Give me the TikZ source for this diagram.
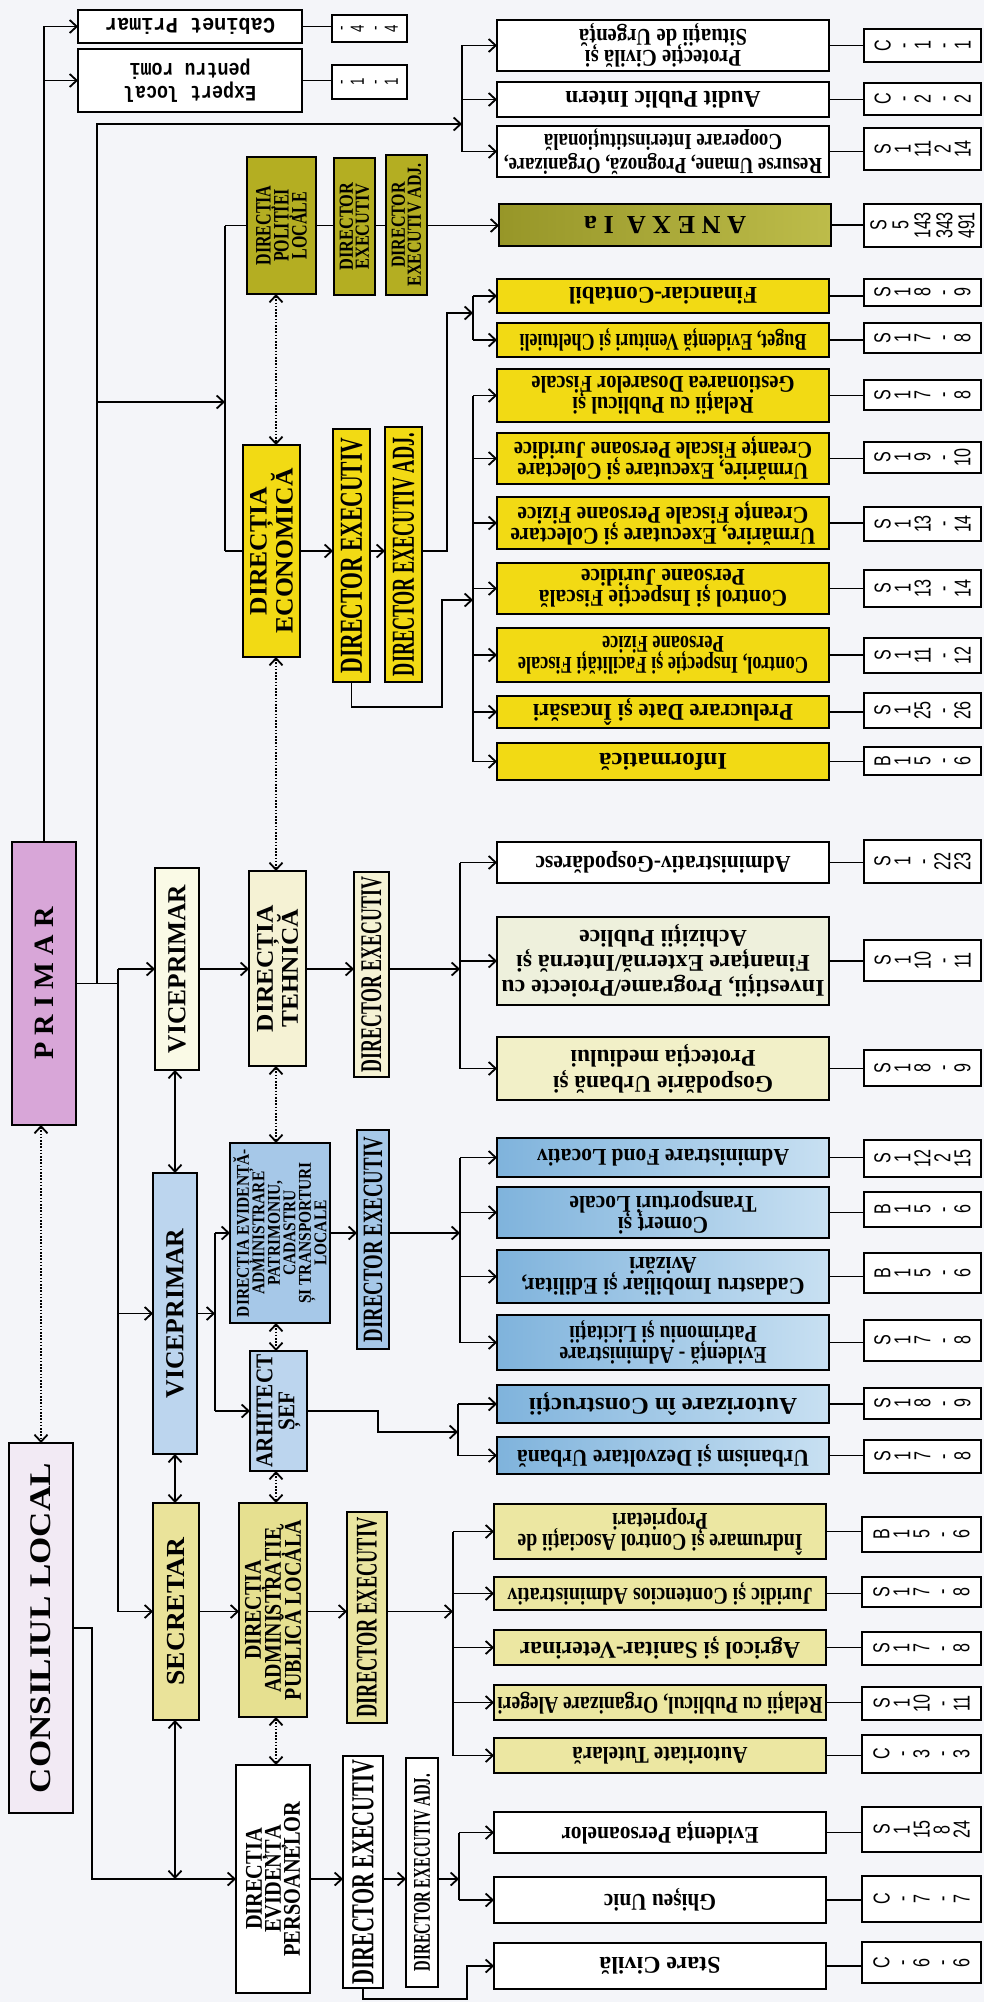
\documentclass[tikz,border=0pt]{standalone}
\usepackage{fontspec}
\setmainfont{Liberation Serif}
\setsansfont{Liberation Sans}
\setmonofont{Liberation Mono}
\usepackage{graphicx}
\usetikzlibrary{arrows.meta}

\definecolor{bgc}{HTML}{F4F5F9}
\definecolor{consc}{HTML}{F2EAF4}
\definecolor{primc}{HTML}{D8A6D8}
\definecolor{vpc}{HTML}{FAFAE6}
\definecolor{bluec}{HTML}{BCD5EE}
\definecolor{blued}{HTML}{A6C8E8}
\definecolor{secc}{HTML}{EAE39A}
\definecolor{olivec}{HTML}{B4AE22}
\definecolor{ecoc}{HTML}{F2DA14}
\definecolor{tehc}{HTML}{F5F2D4}
\definecolor{apc}{HTML}{E6E090}
\definecolor{sbl}{HTML}{7FB3DC}
\definecolor{sbr}{HTML}{C8E0F2}
\definecolor{anl}{HTML}{979628}
\definecolor{anr}{HTML}{BDBC4A}
\definecolor{invc}{HTML}{EEF0DC}
\definecolor{gosc}{HTML}{F2F0C8}
\definecolor{indc}{HTML}{ECE7A2}

\newcommand\ml[1]{\vbox{\lineskiplimit=-100pt\lineskip=0pt\halign{\hfil##\hfil\cr#1\crcr}}}
\newcommand\fw[2]{\resizebox{#1pt}{\height}{#2}}
\newcommand\up[2]{\rotatebox{90}{\fw{#1}{#2}}}
\newcommand\dn[2]{\rotatebox{180}{\fw{#1}{#2}}}
\newcommand\cnt[1]{\rotatebox{90}{\scalebox{0.7}[1]{\ml{#1}}}}

\begin{document}
\begin{tikzpicture}[x=1pt,y=-1pt,
  rect/.style args={#1,#2,#3,#4}{at={({(#1+#3)/2},{(#2+#4)/2})}, minimum width={#3pt-#1pt}, minimum height={#4pt-#2pt}},
  bx/.style={draw=black, line width=2pt, inner sep=0pt, outer sep=0pt},
  main/.style={bx, font=\fontsize{26}{26}\selectfont\bfseries},
  sb/.style={bx, font=\fontsize{24}{21}\selectfont\bfseries},
  sbblue/.style={sb, left color=sbl, right color=sbr},
  cb/.style={draw=black, line width=1.8pt, inner sep=0pt, outer sep=0pt, fill=white, font=\sffamily\fontsize{23}{20}\selectfont},
  ln/.style={line width=1.8pt},
  ar/.style={ln, -{Straight Barb[length=7pt,width=13pt]}},
  dar/.style={ln, {Straight Barb[length=7pt,width=13pt]}-{Straight Barb[length=7pt,width=13pt]}},
  dt/.style={line width=1.8pt, dash pattern=on 1.6pt off 1.6pt, {Straight Barb[length=7pt,width=13pt]}-{Straight Barb[length=7pt,width=13pt]}}]

\useasboundingbox (0,0) rectangle (984,2002);
\fill[bgc] (0,0) rectangle (984,2002);

% ---------------- main column boxes ----------------
\node[main, fill=consc, rect={9,1443,73,1813}, font=\fontsize{30}{30}\selectfont\bfseries] (cons) {\up{330}{CONSILIUL LOCAL}};
\node[main, fill=primc, rect={12,842,76,1125}, font=\fontsize{28}{28}\selectfont\bfseries] (prim) {\up{152}{P R I M A R}};
\node[main, fill=vpc, rect={155,868,199,1070}] (vp1) {\up{168}{VICEPRIMAR}};
\node[main, fill=bluec, rect={153,1173,197,1454}] (vp2) {\up{170}{VICEPRIMAR}};
\node[main, fill=secc, rect={153,1503,199,1720}] (sec) {\up{148}{SECRETAR}};

\node[main, fill=olivec, rect={247,157,316,294}, font=\fontsize{22}{18}\selectfont\bfseries] (dpl) {\up{80}{\ml{DIRECȚIA\cr POLIȚIEI\cr LOCALE}}};
\node[main, fill=olivec, rect={334,158,375,295}, font=\fontsize{20}{16}\selectfont\bfseries] (de1) {\up{88}{\ml{DIRECTOR\cr EXECUTIV}}};
\node[main, fill=olivec, rect={386,155,427,295}, font=\fontsize{20}{16}\selectfont\bfseries] (dea1) {\up{123}{\ml{DIRECTOR\cr EXECUTIV ADJ.}}};

\node[main, fill=ecoc, rect={243,445,300,657}, font=\fontsize{25}{26}\selectfont\bfseries] (eco) {\up{165}{\ml{DIRECȚIA\cr ECONOMICĂ}}};
\node[main, fill=ecoc, rect={333,429,370,682}, font=\fontsize{32}{32}\selectfont\bfseries] (de2) {\up{236}{DIRECTOR EXECUTIV}};
\node[main, fill=ecoc, rect={385,427,422,682}, font=\fontsize{32}{32}\selectfont\bfseries] (dea2) {\up{243}{DIRECTOR EXECUTIV ADJ.}};

\node[main, fill=tehc, rect={249,871,306,1066}, font=\fontsize{24}{25}\selectfont\bfseries] (teh) {\up{127}{\ml{DIRECȚIA\cr TEHNICĂ}}};
\node[main, fill=tehc, rect={354,872,389,1077}, font=\fontsize{30}{30}\selectfont\bfseries] (de3) {\up{195}{DIRECTOR EXECUTIV}};

\node[main, fill=blued, rect={230,1143,330,1323}, font=\fontsize{18}{15.5}\selectfont\bfseries] (dpat) {\up{168}{\ml{DIRECȚIA EVIDENȚĂ-\cr ADMINISTRARE\cr PATRIMONIU,\cr CADASTRU\cr ȘI TRANSPORTURI\cr LOCALE}}};
\node[main, fill=blued, rect={357,1130,389,1349}, font=\fontsize{28}{28}\selectfont\bfseries] (de4) {\up{205}{DIRECTOR EXECUTIV}};
\node[main, fill=bluec, rect={250,1351,307,1471}, font=\fontsize{24}{22}\selectfont\bfseries] (arh) {\up{113}{\ml{ARHITECT\cr ȘEF}}};

\node[main, fill=apc, rect={239,1503,307,1717}, font=\fontsize{24}{20}\selectfont\bfseries] (dap) {\up{180}{\ml{DIRECȚIA\cr ADMINISTRAȚIE\cr PUBLICĂ LOCALĂ}}};
\node[main, fill=apc!85!white, rect={347,1512,387,1723}, font=\fontsize{30}{30}\selectfont\bfseries] (de5) {\up{200}{DIRECTOR EXECUTIV}};

\node[main, fill=white, rect={236,1765,310,1993}, font=\fontsize{24}{19}\selectfont\bfseries] (dep) {\up{155}{\ml{DIRECȚIA\cr EVIDENȚA\cr PERSOANELOR}}};
\node[main, fill=white, rect={343,1756,383,1988}, font=\fontsize{32}{32}\selectfont\bfseries] (de6) {\up{225}{DIRECTOR EXECUTIV}};
\node[main, fill=white, rect={406,1758,438,1987}, font=\fontsize{24}{24}\selectfont\bfseries] (dea6) {\up{197}{DIRECTOR EXECUTIV ADJ.}};

% ---------------- top small boxes ----------------
\node[sb, fill=white, rect={78,10,302,43}, font=\ttfamily\fontsize{22}{22}\selectfont\bfseries] (cab) {\dn{170}{Cabinet Primar}};
\node[cb, rect={332,15,407,42}, font=\sffamily\fontsize{19}{17}\selectfont] (cabn) {\cnt{-\cr 4\cr -\cr 4}};
\node[sb, fill=white, rect={78,49,302,112}, font=\ttfamily\fontsize{22}{23}\selectfont\bfseries] (exp) {\dn{132}{\ml{Expert local\cr pentru romi}}};
\node[cb, rect={332,65,407,99}, font=\sffamily\fontsize{19}{17}\selectfont] (expn) {\cnt{-\cr 1\cr -\cr 1}};

% ---------------- department boxes ----------------
\node[sb, fill=white, rect={497,20,829,71}] (pc) {\dn{168}{\ml{Protecție Civilă și\cr Situații de Urgență}}};
\node[cb, rect={864,29,981,62}] (pcn) {\cnt{C\cr -\cr 1\cr -\cr 1}};
\node[sb, fill=white, rect={497,82,829,117}] (aud) {\dn{195}{Audit Public Intern}};
\node[cb, rect={864,83,981,115}] (audn) {\cnt{C\cr -\cr 2\cr -\cr 2}};
\node[sb, fill=white, rect={497,126,829,177}, font=\fontsize{23}{24}\selectfont\bfseries] (res) {\dn{318}{\ml{Resurse Umane, Prognoză, Organizare,\cr Cooperare Interinstituțională}}};
\node[cb, rect={864,128,981,170}] (resn) {\cnt{S\cr 1\cr 11\cr 2\cr 14}};
\node[sb, left color=anl, right color=anr, rect={499,204,831,246}, font=\fontsize{26}{26}\selectfont\bfseries] (anx) {\dn{162}{A N E X A \ I a}};
\node[cb, rect={864,204,981,247}, font=\sffamily\fontsize{23}{22}\selectfont] (anxn) {\cnt{S\cr 5\cr 143\cr 343\cr 491}};

\node[sb, fill=ecoc, rect={497,279,829,313}] (fin) {\dn{188}{Financiar-Contabil}};
\node[cb, rect={864,279,981,306}] (finn) {\cnt{S\cr 1\cr 8\cr -\cr 9}};
\node[sb, fill=ecoc, rect={497,323,829,357}] (bug) {\dn{287}{Buget, Evidență Venituri și Cheltuieli}};
\node[cb, rect={864,323,981,353}] (bugn) {\cnt{S\cr 1\cr 7\cr -\cr 8}};
\node[sb, fill=ecoc, rect={497,369,829,422}] (rpf) {\dn{263}{\ml{Relații cu Publicul și\cr Gestionarea Dosarelor Fiscale}}};
\node[cb, rect={864,380,981,410}] (rpfn) {\cnt{S\cr 1\cr 7\cr -\cr 8}};
\node[sb, fill=ecoc, rect={497,433,829,484}] (upj) {\dn{298}{\ml{Urmărire, Executare și Colectare\cr Creanțe Fiscale Persoane Juridice}}};
\node[cb, rect={864,442,981,473}] (upjn) {\cnt{S\cr 1\cr 9\cr -\cr 10}};
\node[sb, fill=ecoc, rect={497,497,829,549}] (upf) {\dn{305}{\ml{Urmărire, Executare și Colectare\cr Creanțe Fiscale Persoane Fizice}}};
\node[cb, rect={864,507,981,541}] (upfn) {\cnt{S\cr 1\cr 13\cr -\cr 14}};
\node[sb, fill=ecoc, rect={497,563,829,614}] (cpj) {\dn{248}{\ml{Control și Inspecție Fiscală\cr Persoane Juridice}}};
\node[cb, rect={864,570,981,607}] (cpjn) {\cnt{S\cr 1\cr 13\cr -\cr 14}};
\node[sb, fill=ecoc, rect={497,628,829,682}] (cpf) {\dn{290}{\ml{Control, Inspecție și Facilități Fiscale\cr Persoane Fizice}}};
\node[cb, rect={864,638,981,673}] (cpfn) {\cnt{S\cr 1\cr 11\cr -\cr 12}};
\node[sb, fill=ecoc, rect={497,696,829,728}] (pre) {\dn{260}{Prelucrare Date și Încasări}};
\node[cb, rect={864,693,981,728}] (pren) {\cnt{S\cr 1\cr 25\cr -\cr 26}};
\node[sb, fill=ecoc, rect={497,743,829,780}] (inf) {\dn{128}{Informatică}};
\node[cb, rect={864,747,981,775}] (infn) {\cnt{B\cr 1\cr 5\cr -\cr 6}};

\node[sb, fill=white, rect={497,842,829,883}] (adg) {\dn{255}{Administrativ-Gospodăresc}};
\node[cb, rect={864,840,981,883}] (adgn) {\cnt{S\cr 1\cr -\cr 22\cr 23}};
\node[sb, fill=invc, rect={497,917,829,1005}, font=\fontsize{24}{25}\selectfont\bfseries] (inv) {\dn{323}{\ml{Investiții, Programe/Proiecte cu\cr Finanțare Externă/Internă și\cr Achiziții Publice}}};
\node[cb, rect={864,940,981,981}] (invn) {\cnt{S\cr 1\cr 10\cr -\cr 11}};
\node[sb, fill=gosc, rect={497,1037,829,1100}, font=\fontsize{24}{26}\selectfont\bfseries] (gos) {\dn{220}{\ml{Gospodărie Urbană și\cr Protecția mediului}}};
\node[cb, rect={864,1050,981,1086}] (gosn) {\cnt{S\cr 1\cr 8\cr -\cr 9}};

\node[sbblue, rect={497,1138,829,1177}] (afl) {\dn{252}{Administrare Fond Locativ}};
\node[cb, rect={864,1140,981,1177}] (afln) {\cnt{S\cr 1\cr 12\cr 2\cr 15}};
\node[sbblue, rect={497,1187,829,1238}] (com) {\dn{187}{\ml{Comerț și\cr Transporturi Locale}}};
\node[cb, rect={864,1192,981,1227}] (comn) {\cnt{B\cr 1\cr 5\cr -\cr 6}};
\node[sbblue, rect={497,1250,829,1303}] (cad) {\dn{283}{\ml{Cadastru Imobiliar și Edilitar,\cr Avizări}}};
\node[cb, rect={864,1253,981,1293}] (cadn) {\cnt{B\cr 1\cr 5\cr -\cr 6}};
\node[sbblue, rect={497,1315,829,1370}] (eap) {\dn{207}{\ml{Evidență - Administrare\cr Patrimoniu și Licitații}}};
\node[cb, rect={864,1320,981,1361}] (eapn) {\cnt{S\cr 1\cr 7\cr -\cr 8}};
\node[sbblue, rect={497,1385,829,1423}] (aut) {\dn{268}{Autorizare în Construcții}};
\node[cb, rect={864,1388,981,1419}] (autn) {\cnt{S\cr 1\cr 8\cr -\cr 9}};
\node[sbblue, rect={497,1437,829,1474}] (urb) {\dn{292}{Urbanism și Dezvoltare Urbană}};
\node[cb, rect={864,1440,981,1473}] (urbn) {\cnt{S\cr 1\cr 7\cr -\cr 8}};

\node[sb, fill=indc, rect={494,1504,826,1559}] (ind) {\dn{285}{\ml{Îndrumare și Control Asociații de\cr Proprietari}}};
\node[cb, rect={862,1517,981,1552}] (indn) {\cnt{B\cr 1\cr 5\cr -\cr 6}};
\node[sb, fill=indc, rect={494,1577,826,1610}] (jur) {\dn{305}{Juridic și Contencios Administrativ}};
\node[cb, rect={862,1577,981,1607}] (jurn) {\cnt{S\cr 1\cr 7\cr -\cr 8}};
\node[sb, fill=indc, rect={494,1630,826,1665}] (agr) {\dn{280}{Agricol și Sanitar-Veterinar}};
\node[cb, rect={862,1632,981,1665}] (agrn) {\cnt{S\cr 1\cr 7\cr -\cr 8}};
\node[sb, fill=indc, rect={494,1685,826,1720}] (rpa) {\dn{325}{Relații cu Publicul, Organizare Alegeri}};
\node[cb, rect={862,1687,981,1720}] (rpan) {\cnt{S\cr 1\cr 10\cr -\cr 11}};
\node[sb, fill=indc, rect={494,1738,826,1773}] (tut) {\dn{175}{Autoritate Tutelară}};
\node[cb, rect={862,1735,981,1773}] (tutn) {\cnt{C\cr -\cr 3\cr -\cr 3}};

\node[sb, fill=white, rect={494,1812,826,1853}] (evp) {\dn{197}{Evidența Persoanelor}};
\node[cb, rect={862,1807,981,1852}] (evpn) {\cnt{S\cr 1\cr 15\cr 8\cr 24}};
\node[sb, fill=white, rect={494,1877,826,1923}] (ghi) {\dn{112}{Ghișeu Unic}};
\node[cb, rect={862,1876,981,1922}] (ghin) {\cnt{C\cr -\cr 7\cr -\cr 7}};
\node[sb, fill=white, rect={494,1943,826,1989}] (stc) {\dn{121}{Stare Civilă}};
\node[cb, rect={862,1942,981,1983}] (stcn) {\cnt{C\cr -\cr 6\cr -\cr 6}};

% box-to-count connectors
\foreach \n in {cab,exp,pc,aud,res,anx,fin,bug,rpf,upj,upf,cpj,cpf,pre,inf,adg,inv,gos,afl,com,cad,eap,aut,urb,ind,jur,agr,rpa,tut,evp,ghi,stc}
  \draw[ln] (\n.east) -- (\n.east -| \n n.west);

% ---------------- junction coordinates ----------------
\coordinate (pu) at (97,0);
\coordinate (pv) at (118,0);
\coordinate (b1) at (462,124);
\coordinate (b2) at (225,402);
\coordinate (b3) at (473,313);
\coordinate (k1) at (447,313);
\coordinate (k2) at (442,707);
\coordinate (b4) at (473,600);
\coordinate (b5) at (460,969);
\coordinate (b6) at (215,1313);
\coordinate (b7) at (460,1237);
\coordinate (k3) at (378,1432);
\coordinate (b8) at (458,1432);
\coordinate (b9) at (453,1615);
\coordinate (cx) at (92,0);
\coordinate (sx) at (175,0);
\coordinate (dx) at (276,0);
\coordinate (b10) at (459,1878);
\coordinate (k5) at (467,1999);
\coordinate (dc) at (41,0);

% ---------------- connectors ----------------
\draw[ar] (prim.north) |- (cab.west);
\draw[ar] (prim.north) |- (exp.west);

\draw[ln] (prim.east) -- (prim.east -| pv);
\draw[ln] (pv |- vp1.west) -- (pv |- sec.west);
\foreach \n in {vp1,vp2,sec} \draw[ar] (pv |- \n.west) -- (\n.west);

\draw[ar] (prim.east -| pu) |- (b1);
\draw[ln] (b1 |- pc.west) -- (b1 |- res.west);
\foreach \n in {pc,aud,res} \draw[ar] (b1 |- \n.west) -- (\n.west);

\draw[ar] (pu |- b2) -- (b2);
\draw[ln] (b2 |- dpl.west) -- (b2 |- eco.west);
\draw[ln] (b2 |- dpl.west) -- (dpl.west);
\draw[ln] (b2 |- eco.west) -- (eco.west);

\draw[ln] (dpl.east) -- (dpl.east -| de1.west);
\draw[ln] (dpl.east -| de1.east) -- (dpl.east -| dea1.west);
\draw[ar] (dpl.east -| dea1.east) -- (dpl.east -| anx.west);

\draw[ar] (eco.east) -- (eco.east -| de2.west);
\draw[ar] (eco.east -| de2.east) -- (eco.east -| dea2.west);
\draw[ar] (eco.east -| dea2.east) -| (k1) -- (b3);
\draw[ln] (b3 |- fin.west) -- (b3 |- bug.west);
\foreach \n in {fin,bug} \draw[ar] (b3 |- \n.west) -- (\n.west);
\draw[ar] (de2.south) |- (k2) |- (b4);
\draw[ln] (b4 |- rpf.west) -- (b4 |- inf.west);
\foreach \n in {rpf,upj,upf,cpj,cpf,pre,inf} \draw[ar] (b4 |- \n.west) -- (\n.west);

\draw[dt] (dx |- dpl.south) -- (dx |- eco.north);
\draw[dt] (dx |- eco.south) -- (dx |- teh.north);
\draw[dt] (dx |- teh.south) -- (dx |- dpat.north);
\draw[dt] (dx |- dpat.south) -- (dx |- arh.north);
\draw[dt] (dx |- arh.south) -- (dx |- dap.north);
\draw[dt] (dx |- dap.south) -- (dx |- dep.north);
\draw[dt] (dc |- prim.south) -- (dc |- cons.north);

\draw[ar] (vp1.east) -- (vp1.east -| teh.west);
\draw[ar] (vp1.east -| teh.east) -- (vp1.east -| de3.west);
\draw[ar] (vp1.east -| de3.east) -- (vp1.east -| b5);
\draw[ln] (b5 |- adg.west) -- (b5 |- gos.west);
\foreach \n in {adg,inv,gos} \draw[ar] (b5 |- \n.west) -- (\n.west);

\draw[dar] (sx |- vp1.south) -- (sx |- vp2.north);
\draw[dar] (sx |- vp2.south) -- (sx |- sec.north);
\draw[dar] (sx |- sec.south) -- (sx |- dep.west);

\draw[ar] (vp2.east) -- (vp2.east -| b6);
\draw[ln] (b6 |- dpat.west) -- (b6 |- arh.west);
\foreach \n in {dpat,arh} \draw[ar] (b6 |- \n.west) -- (\n.west);
\draw[ar] (dpat.east) -- (dpat.east -| de4.west);
\draw[ar] (dpat.east -| de4.east) -- (dpat.east -| b7);
\draw[ln] (b7 |- afl.west) -- (b7 |- eap.west);
\foreach \n in {afl,com,cad,eap} \draw[ar] (b7 |- \n.west) -- (\n.west);
\draw[ar] (arh.east) -| (k3) -- (b8);
\draw[ln] (b8 |- aut.west) -- (b8 |- urb.west);
\foreach \n in {aut,urb} \draw[ar] (b8 |- \n.west) -- (\n.west);

\draw[ar] (sec.east) -- (sec.east -| dap.west);
\draw[ar] (sec.east -| dap.east) -- (sec.east -| de5.west);
\draw[ar] (sec.east -| de5.east) -- (sec.east -| b9);
\draw[ln] (b9 |- ind.west) -- (b9 |- tut.west);
\foreach \n in {ind,jur,agr,rpa,tut} \draw[ar] (b9 |- \n.west) -- (\n.west);

\draw[ar] (cons.east) -| (cx |- dep.west) -- (dep.west);
\draw[ar] (dep.east) -- (dep.east -| de6.west);
\draw[ar] (dep.east -| de6.east) -- (dep.east -| dea6.west);
\draw[ar] (dep.east -| dea6.east) -- (dep.east -| b10);
\draw[ln] (b10 |- evp.west) -- (b10 |- ghi.west);
\foreach \n in {evp,ghi} \draw[ar] (b10 |- \n.west) -- (\n.west);
\draw[ar] (de6.south) |- (k5) |- (stc.west);

\end{tikzpicture}
\end{document}
